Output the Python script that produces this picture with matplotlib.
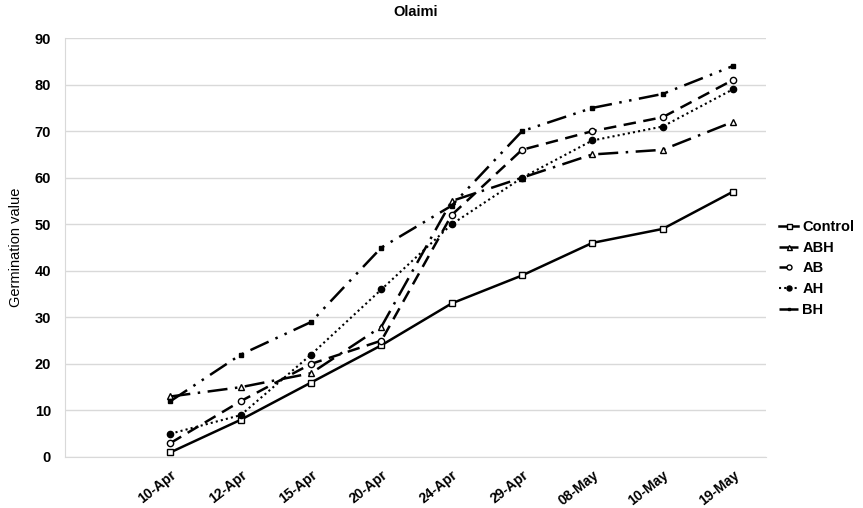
import matplotlib.pyplot as plt

dates = ["10-Apr", "12-Apr", "15-Apr", "20-Apr", "24-Apr", "29-Apr", "08-May", "10-May", "19-May"]
control = [1, 8, 16, 24, 33, 39, 46, 49, 57]
abh = [13, 15, 18, 28, 55, 60, 65, 66, 72]
ab = [3, 12, 20, 25, 52, 66, 70, 73, 81]
ah = [5, 9, 22, 36, 50, 60, 68, 71, 79]
bh = [12, 22, 29, 45, 54, 70, 75, 78, 84]

plt.rcParams['font.family'] = ['Liberation Sans', 'DejaVu Sans']

fig = plt.figure(figsize=(8.63, 5.08), dpi=100)
ax = fig.add_axes([0.0753, 0.1004, 0.8123, 0.8246])

x = list(range(len(dates)))
ax.plot(x, control, color="black", lw=1.8, ls="-", marker="s", ms=4.5, mfc="white", mew=1, label="Control")
ax.plot(x, abh, color="black", lw=1.8, ls=(0, (8, 3, 1, 3)), marker="^", ms=4.5, mfc="white", mew=1, label="ABH")
ax.plot(x, ab, color="black", lw=1.8, ls=(0, (5, 3)), marker="o", ms=4.5, mfc="white", mew=1, label="AB")
ax.plot(x, ah, color="black", lw=1.5, ls=(0, (1, 1.5)), marker="o", ms=4.5, mfc="black", label="AH")
ax.plot(x, bh, color="black", lw=1.8, ls=(0, (8, 3, 1, 3, 1, 3)), marker="s", ms=2.5, mfc="black", label="BH")

ax.set_xlim(-1.5, 8.47)
ax.set_ylim(0, 90)
ax.set_yticks(range(0, 91, 10))
ax.set_xticks(x)
ax.set_xticklabels(dates, rotation=38, ha="right", rotation_mode="anchor", fontweight="bold", fontsize=10)
for lab in ax.get_yticklabels():
    lab.set_fontweight("bold")
    lab.set_fontsize(10.5)
ax.tick_params(length=0, pad=10)
ax.tick_params(axis="x", pad=8)

ax.grid(axis="y", color="#d9d9d9", lw=1)
ax.set_axisbelow(True)
for s in ["top", "right"]:
    ax.spines[s].set_visible(False)
ax.spines["left"].set_color("#d9d9d9")
ax.spines["bottom"].set_color("#d9d9d9")

ax.set_title("Olaimi", fontweight="bold", fontsize=10.5, pad=16)
ax.set_ylabel("Germination value", fontsize=10.5, labelpad=8)

leg = ax.legend(loc="center left", bbox_to_anchor=(1.0, 0.45), frameon=False,
                handlelength=1.3, handletextpad=0.3, labelspacing=0.45, markerscale=0.8,
                prop={"weight": "bold", "size": 10.5})

plt.savefig("out.png", dpi=100)
